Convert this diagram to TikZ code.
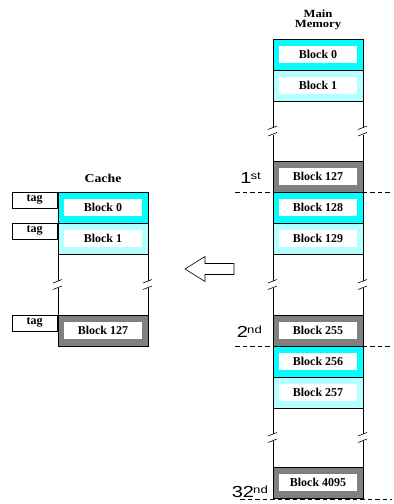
\documentclass[tikz,border=0pt]{standalone}
\usepackage{fontspec}
\setmainfont{Liberation Serif}
\newfontfamily\ordfont[FakeStretch=1.25]{Liberation Sans}
\newfontfamily\titlefont[FakeStretch=1.15]{Liberation Serif}
\usetikzlibrary{positioning, calc}
\usepackage{xcolor}
\definecolor{fullcyan}{RGB}{0,255,255}
\definecolor{palecyan}{RGB}{180,255,255}
\definecolor{darkslot}{RGB}{128,128,128}
\tikzset{
    memblock/.style={rectangle, draw=black, line width=0.6pt,
        minimum width=90pt, minimum height=31pt, inner sep=0pt, outer sep=0pt},
    blocklabel/.style={rectangle, fill=white, minimum width=78pt, minimum height=17pt,
        inner sep=0pt, font=\bfseries\fontsize{12}{12}\selectfont},
    tagbox/.style={rectangle, draw=black, line width=0.6pt, fill=white,
        minimum width=45pt, minimum height=15.5pt, inner sep=0pt, anchor=north east,
        font=\bfseries\fontsize{12}{12}\selectfont},
    ordinal/.style={anchor=base east, inner sep=0pt, font=\ordfont\fontsize{16}{16}\selectfont},
    boundary/.style={line width=0.6pt, dash pattern=on 4.5pt off 3pt},
    coltitle/.style={inner sep=0pt, align=center}
}
\newcommand{\ordsup}[1]{\kern-0.8pt\raisebox{3.5pt}{\fontsize{10.5}{10.5}\selectfont #1}}
\newcommand{\brokenside}[2]{%
    \coordinate (brk) at ($(#1)!0.5!(#2)$);
    \draw[line width=0.6pt] (#1) -- ([yshift=3.5pt]brk);
    \draw[line width=0.6pt] ([yshift=-3.5pt]brk) -- (#2);
    \draw[line width=0.6pt] ([xshift=-5pt,yshift=1.5pt]brk) -- ([xshift=4pt,yshift=5pt]brk);
    \draw[line width=0.6pt] ([xshift=-5pt,yshift=-5pt]brk) -- ([xshift=4pt,yshift=-1.5pt]brk);
}

\begin{document}
\begin{tikzpicture}[x=1pt, y=-1pt]
    \useasboundingbox (0,0) rectangle (394,504);

    % main memory
    \node[memblock, fill=fullcyan] (m0) at (318,54.5) {};
    \node[memblock, fill=palecyan, below=0pt of m0] (m1) {};
    \node[memblock, fill=darkslot, below=60pt of m1] (m127) {};
    \node[memblock, fill=fullcyan, below=0pt of m127] (m128) {};
    \node[memblock, fill=palecyan, below=0pt of m128] (m129) {};
    \node[memblock, fill=darkslot, below=61pt of m129] (m255) {};
    \node[memblock, fill=fullcyan, below=0pt of m255] (m256) {};
    \node[memblock, fill=palecyan, below=0pt of m256] (m257) {};
    \node[memblock, fill=darkslot, below=59pt of m257] (m4095) {};
    \foreach \b in {0,1,127,128,129,255,256,257,4095}
        \node[blocklabel] (m\b-t) at (m\b) {Block \b};

    \node[coltitle, font=\titlefont\bfseries\fontsize{11}{10.5}\selectfont, above=8.5pt of m0] (mtitle) {Main\\Memory};

    \brokenside{m1.south west}{m127.north west}
    \brokenside{m1.south east}{m127.north east}
    \brokenside{m129.south west}{m255.north west}
    \brokenside{m129.south east}{m255.north east}
    \brokenside{m257.south west}{m4095.north west}
    \brokenside{m257.south east}{m4095.north east}

    \draw[boundary] ([xshift=-38pt]m127.south west) -- ([xshift=29pt]m127.south east);
    \draw[boundary] ([xshift=-38pt]m255.south west) -- ([xshift=29pt]m255.south east);
    \draw[boundary] ([xshift=-33pt,yshift=-1.5pt]m4095.south west) -- ([xshift=29pt,yshift=-1.5pt]m4095.south east);

    \node[ordinal] (o1) at ([xshift=-12pt,yshift=9pt]m127.south west) {1\ordsup{st}};
    \node[ordinal] (o2) at ([xshift=-11pt,yshift=9pt]m255.south west) {2\ordsup{nd}};
    \node[ordinal] (o32) at ([xshift=-5pt,yshift=1pt]m4095.south west) {32\ordsup{nd}};

    % cache
    \node[memblock, fill=fullcyan, left=125pt of m128] (c0) {};
    \node[memblock, fill=palecyan, left=125pt of m129] (c1) {};
    \node[memblock, fill=darkslot, left=125pt of m255] (c127) {};
    \foreach \b in {0,1,127}
        \node[blocklabel] (c\b-t) at (c\b) {Block \b};
    \foreach \b in {0,1,127}
        \node[tagbox, text depth=3.5pt] (tag\b) at ([xshift=-0.5pt]c\b.north west) {tag};

    \node[coltitle, font=\titlefont\bfseries\fontsize{12}{12}\selectfont, above=9pt of c0] (ctitle) {Cache};

    \brokenside{c1.south west}{c127.north west}
    \brokenside{c1.south east}{c127.north east}

    % copy arrow
    \draw[line width=0.6pt] (185,269) -- (205,256.5) -- (205,263.5) -- (234,263.5)
        -- (234,274.5) -- (205,274.5) -- (205,281.5) -- cycle;

\end{tikzpicture}
\end{document}
